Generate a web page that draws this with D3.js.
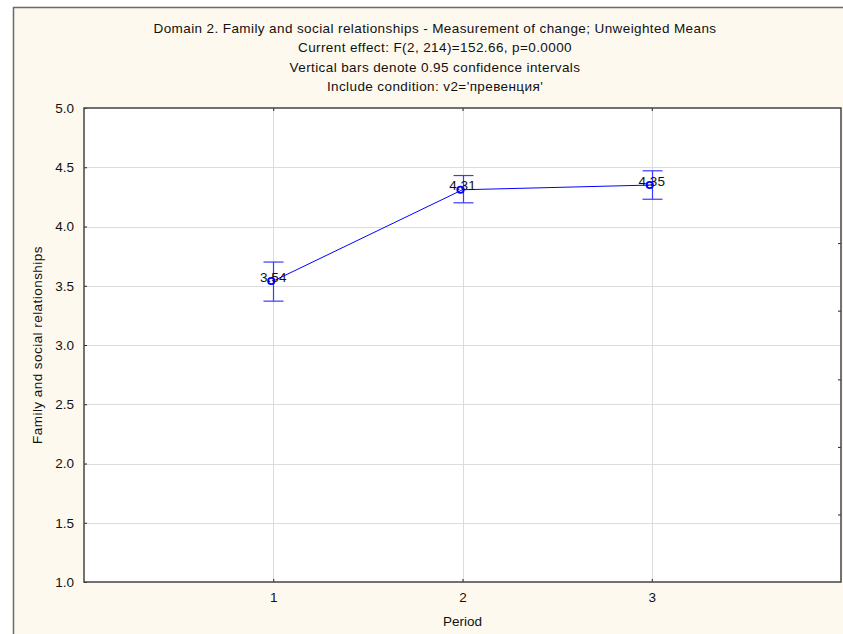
<!DOCTYPE html>
<html><head><meta charset="utf-8">
<script src="https://cdn.jsdelivr.net/npm/d3@7/dist/d3.min.js"></script>
<style>body{margin:0;background:#fff;}svg{display:block;}</style>
</head><body><svg id="c" width="843" height="634"></svg>
<script>
const titleLines = [
  "Domain 2. Family and social relationships - Measurement of change; Unweighted Means",
  "Current effect: F(2, 214)=152.66, p=0.0000",
  "Vertical bars denote 0.95 confidence intervals",
  "Include condition: v2='превенция'"
];
const periods = [1, 2, 3];
const means = [3.54, 4.31, 4.35];
const ciLow = [3.37, 4.20, 4.23];
const ciHigh = [3.70, 4.43, 4.47];
const pointLabels = ["3.54", "4.31", "4.35"];
const yTicks = [1.0, 1.5, 2.0, 2.5, 3.0, 3.5, 4.0, 4.5, 5.0];
const xTicks = [1, 2, 3];
const rightTicks = [3.86, 3.29, 2.71, 2.14, 1.57];
const xLabel = "Period";
const yLabel = "Family and social relationships";

const svg = d3.select("#c");
const W = 843, H = 634;
const m = {left: 84, right: 841, top: 108, bottom: 582};
const font = "'Liberation Sans', Arial, sans-serif";
const fs = 13.5;

svg.append("rect").attr("x", 0).attr("y", 0).attr("width", W).attr("height", H).attr("fill", "#fff");
svg.append("rect").attr("x", 13).attr("y", 7).attr("width", W).attr("height", H).attr("fill", "#fef9ef");
svg.append("line").attr("x1", 13.5).attr("x2", 13.5).attr("y1", 7).attr("y2", H).attr("stroke", "#6a6a6a").attr("stroke-width", 1.5);
svg.append("line").attr("x1", 13).attr("x2", W).attr("y1", 7.5).attr("y2", 7.5).attr("stroke", "#6a6a6a").attr("stroke-width", 1.5);

const x = d3.scaleLinear().domain([0, 4]).range([m.left, m.right]);
const y = d3.scaleLinear().domain([1, 5]).range([m.bottom, m.top]);

// title
svg.append("g").selectAll("text").data(titleLines).join("text")
  .attr("x", 435).attr("y", (d, i) => 33 + i * 19.4)
  .attr("text-anchor", "middle").attr("font-family", font).attr("font-size", 13.5)
  .attr("letter-spacing", 0.4).attr("fill", "#111").text(d => d);

// plot background
svg.append("rect").attr("x", m.left).attr("y", m.top).attr("width", m.right - m.left).attr("height", m.bottom - m.top).attr("fill", "#fff");

// gridlines
svg.append("g").selectAll("line").data(yTicks.slice(1, -1)).join("line")
  .attr("x1", m.left).attr("x2", m.right).attr("y1", d => Math.round(y(d)) + 0.5).attr("y2", d => Math.round(y(d)) + 0.5)
  .attr("stroke", "#dcdcdc").attr("stroke-width", 1);
svg.append("g").selectAll("line").data(xTicks).join("line")
  .attr("y1", m.top).attr("y2", m.bottom).attr("x1", d => Math.round(x(d)) + 0.5).attr("x2", d => Math.round(x(d)) + 0.5)
  .attr("stroke", "#dcdcdc").attr("stroke-width", 1);

// axes
const yAxis = d3.axisLeft(y).tickValues(yTicks).tickFormat(d3.format(".1f")).tickSize(-3).tickPadding(10);
const gy = svg.append("g").attr("transform", `translate(${m.left},0)`).call(yAxis);
const xAxis = d3.axisBottom(x).tickValues(xTicks).tickFormat(d3.format("d")).tickSize(-3).tickPadding(10);
const gx = svg.append("g").attr("transform", `translate(0,${m.bottom})`).call(xAxis);
const xTop = d3.axisTop(x).tickValues(xTicks).tickFormat("").tickSize(-3);
const gxt = svg.append("g").attr("transform", `translate(0,${m.top})`).call(xTop);
const yRight = d3.axisRight(y).tickValues(rightTicks).tickFormat("").tickSize(-3);
const gyr = svg.append("g").attr("transform", `translate(${m.right},0)`).call(yRight);
[gy, gx, gxt, gyr].forEach(g => {
  g.select(".domain").remove();
  g.selectAll(".tick line").attr("stroke", "#222");
  g.selectAll(".tick text").attr("font-family", font).attr("font-size", fs).attr("fill", "#111");
});

// frame
svg.append("rect").attr("x", m.left).attr("y", m.top).attr("width", m.right - m.left).attr("height", m.bottom - m.top)
  .attr("fill", "none").attr("stroke", "#444").attr("stroke-width", 1.5);

// axis labels
svg.append("text").attr("x", x(2)).attr("y", 626).attr("text-anchor", "middle")
  .attr("font-family", font).attr("font-size", fs).attr("fill", "#111").text(xLabel);
svg.append("text").attr("transform", `translate(42,${(m.top + m.bottom) / 2}) rotate(-90)`).attr("text-anchor", "middle")
  .attr("font-family", font).attr("font-size", fs).attr("letter-spacing", 0.45).attr("fill", "#111").text(yLabel);

const data = periods.map((p, i) => ({p, m: means[i], lo: ciLow[i], hi: ciHigh[i], lab: pointLabels[i]}));
const blue = "#0000ff";

// error bars
const eb = svg.append("g").attr("stroke", "#3a3aff").attr("stroke-width", 1.2);
data.forEach(d => {
  const cx = Math.round(x(d.p)) + 0.5;
  eb.append("line").attr("x1", cx).attr("x2", cx).attr("y1", y(d.hi)).attr("y2", y(d.lo));
  eb.append("line").attr("x1", cx - 10).attr("x2", cx + 10).attr("y1", y(d.hi)).attr("y2", y(d.hi));
  eb.append("line").attr("x1", cx - 10).attr("x2", cx + 10).attr("y1", y(d.lo)).attr("y2", y(d.lo));
});

// line
svg.append("path").datum(data).attr("fill", "none").attr("stroke", blue).attr("stroke-width", 1)
  .attr("d", d3.line().x(d => x(d.p)).y(d => y(d.m)));

// points
svg.append("g").selectAll("circle").data(data).join("circle")
  .attr("cx", d => x(d.p) - 2).attr("cy", d => y(d.m)).attr("r", 3.2)
  .attr("fill", "none").attr("stroke", blue).attr("stroke-width", 1.8);

// labels
svg.append("g").selectAll("text").data(data).join("text")
  .attr("x", d => x(d.p)).attr("y", d => y(d.m) + 0.5).attr("text-anchor", "middle")
  .attr("font-family", font).attr("font-size", fs).attr("fill", "#111").text(d => d.lab);
</script></body></html>
